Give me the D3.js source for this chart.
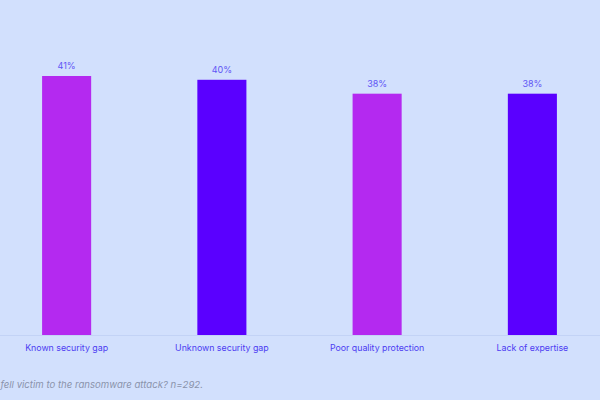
<!DOCTYPE html>
<html><head><meta charset="utf-8">
<script src="https://cdn.jsdelivr.net/npm/d3@7"></script>
<style>html,body{margin:0;padding:0;background:#d2e0fd;}svg{display:block;}</style>
</head><body>
<svg id="c" width="600" height="400"></svg>
<script>
const categories = ["Known security gap", "Unknown security gap", "Poor quality protection", "Lack of expertise"];
const values = [41, 40.4, 38.2, 38.2];
const valueLabels = ["41%", "40%", "38%", "38%"];
const barColors = ["#b429f0", "#5a00ff", "#b429f0", "#5a00ff"];
const caption = "Why do you think your organization fell victim to the ransomware attack? n=292.";

const svg = d3.select("#c");
svg.append("rect").attr("width", 600).attr("height", 400).attr("fill", "#d2e0fd");

const x = d3.scaleBand().domain(categories).range([-11, 610])
  .paddingInner(0.684).paddingOuter(0.342);
const y = d3.scaleLinear().domain([0, 41]).range([335, 76]);

svg.append("line").attr("x1", 0).attr("x2", 600)
  .attr("y1", y(0) + 0.5).attr("y2", y(0) + 0.5)
  .attr("stroke", "#c3d3f6").attr("stroke-width", 1);

svg.selectAll("rect.bar").data(values).enter().append("rect")
  .attr("class", "bar")
  .attr("x", (d, i) => x(categories[i]))
  .attr("width", x.bandwidth())
  .attr("y", d => y(d))
  .attr("height", d => y(0) - y(d))
  .attr("fill", (d, i) => barColors[i]);

svg.selectAll("text.val").data(values).enter().append("text")
  .attr("class", "val")
  .attr("x", (d, i) => x(categories[i]) + x.bandwidth() / 2)
  .attr("y", d => y(d) - 7)
  .attr("text-anchor", "middle")
  .attr("font-family", "Inter, 'Noto Sans', sans-serif")
  .attr("font-size", 9)
  .attr("fill", "#5f55f5")
  .text((d, i) => valueLabels[i]);

svg.selectAll("text.cat").data(categories).enter().append("text")
  .attr("class", "cat")
  .attr("x", d => x(d) + x.bandwidth() / 2)
  .attr("y", 351)
  .attr("text-anchor", "middle")
  .attr("font-family", "Inter, 'Noto Sans', sans-serif")
  .attr("font-size", 8.8)
  .attr("fill", "#4c3cf2")
  .text(d => d);

svg.append("text")
  .attr("x", 203).attr("y", 388)
  .attr("text-anchor", "end")
  .attr("font-family", "Inter, 'Noto Sans', sans-serif")
  .attr("font-style", "italic")
  .attr("font-size", 9.6)
  .attr("fill", "#8a93ab")
  .text(caption);
</script>
</body></html>
